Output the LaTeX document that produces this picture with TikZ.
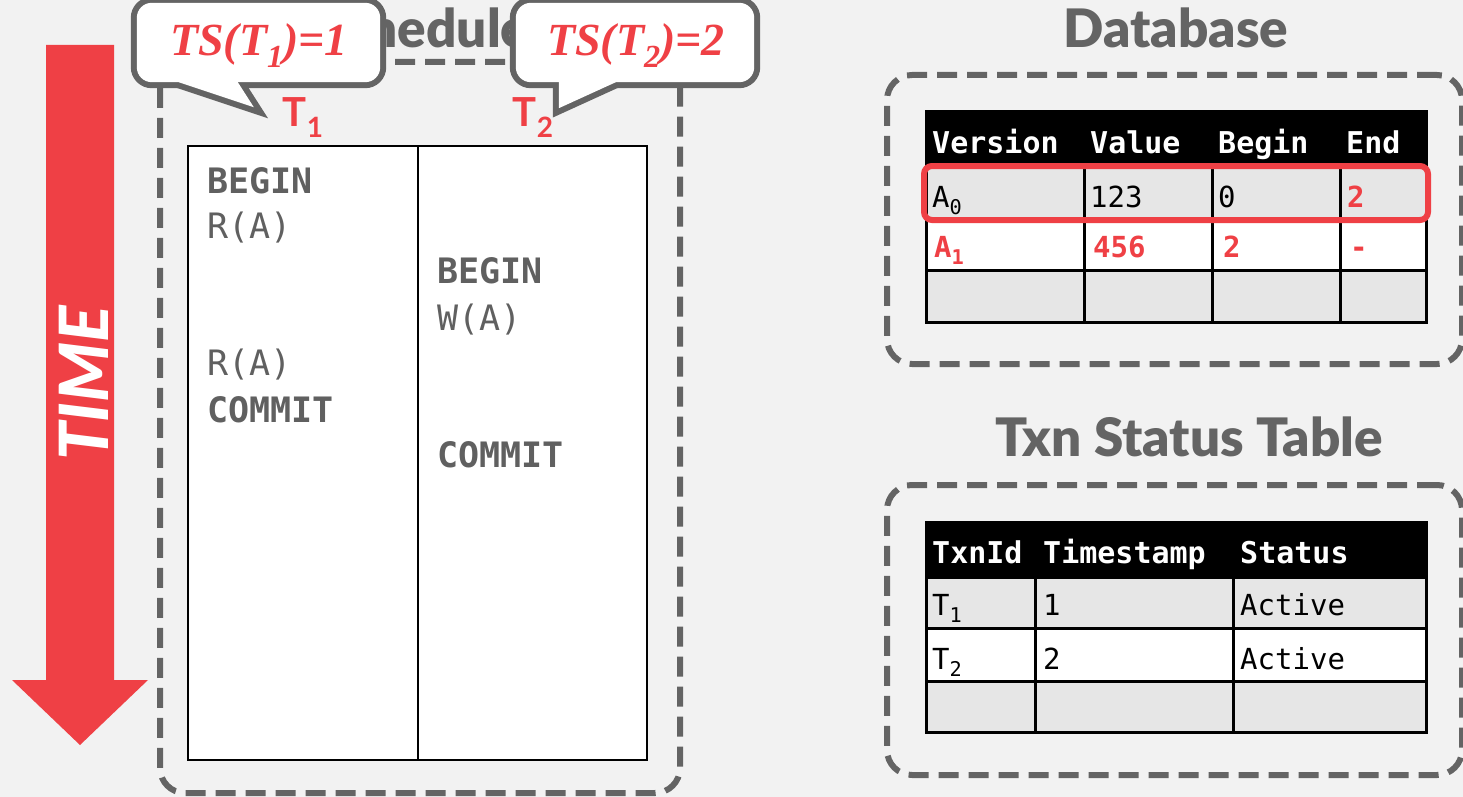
\documentclass[tikz,border=0pt]{standalone}
\usepackage{fontspec}
\setmainfont{Lato}
\setmonofont{DejaVu Sans Mono}
\newfontfamily\bubblefont{Liberation Serif}
\newfontfamily\heavyfont{Lato Black}
\usetikzlibrary{positioning, calc}

\definecolor{cmured}{RGB}{239,64,69}
\definecolor{dashgray}{RGB}{100,100,100}
\definecolor{textgray}{RGB}{96,96,96}
\definecolor{cellgray}{RGB}{230,230,230}
\definecolor{bggray}{RGB}{242,242,242}

\newcommand\lowidx[1]{\raisebox{-0.25em}{\scalebox{0.7}{#1}}}

\tikzset{
  dashbox/.style={draw=dashgray, line width=6pt, dash pattern=on 20pt off 10pt, rounded corners=25pt},
  paneltitle/.style={font=\heavyfont\fontsize{53}{53}\selectfont, text=dashgray, inner sep=0pt, anchor=base},
  optext/.style={font=\ttfamily\fontsize{35}{35}\selectfont, text=textgray, inner sep=0pt, anchor=base west},
  headtext/.style={font=\ttfamily\bfseries\fontsize{30}{30}\selectfont, text=white, inner sep=0pt, anchor=base west},
  celltext/.style={font=\ttfamily\fontsize{29}{29}\selectfont, inner sep=0pt, anchor=base west},
  redtext/.style={celltext, font=\ttfamily\bfseries\fontsize{29}{29}\selectfont, text=cmured},
  grid/.style={line width=3pt, black},
  bubbleline/.style={draw=dashgray, line width=12pt, line join=miter},
  bubblebox/.style={minimum width=243pt, minimum height=79pt, inner sep=0pt},
  bubbletext/.style={font=\bubblefont\bfseries\itshape\fontsize{46}{46}\selectfont, text=cmured, inner sep=0pt, anchor=base},
  txnlabel/.style={font=\fontsize{40}{40}\selectfont\bfseries, text=cmured, inner sep=0pt, anchor=base},
}

\begin{document}
\begin{tikzpicture}[x=1pt, y=-1pt]
\fill[bggray] (0,0) rectangle (1463,797);
\useasboundingbox (0,0) rectangle (1463,797);

% time arrow
\fill[cmured] (46,45) -- (114,45) -- (114,680) -- (148,680) -- (80,745) -- (12,680) -- (46,680) -- cycle;
\node[rotate=90, text=white, inner sep=0pt, font=\heavyfont\fontsize{68}{68}\selectfont\itshape] (timelabel) at (84,383) {TIME};

% schedule
\node[paneltitle] (schedtitle) at (421,48) {Schedule};
\node[dashbox, minimum width=520pt, minimum height=731pt] (schedbox) at (420,427.5) {};
\node[draw, fill=white, line width=2pt, minimum width=459pt, minimum height=614pt] (schedgrid) at (417.5,453) {};
\draw[line width=2pt] (schedgrid.north) -- (schedgrid.south);

\node[optext] (beginone) at (207,193) {\bfseries BEGIN};
\node[optext] (readone) at (207,238) {R(A)};
\node[optext] (readtwo) at (207,375) {R(A)};
\node[optext] (commitone) at (207,422) {\bfseries COMMIT};
\node[optext] (begintwo) at (437,283) {\bfseries BEGIN};
\node[optext] (writetwo) at (437,330) {W(A)};
\node[optext] (committwo) at (437,467) {\bfseries COMMIT};

\node[txnlabel] (tone) at (303,127) {T\lowidx{1}};
\node[txnlabel] (ttwo) at (533,127) {T\lowidx{2}};

% bubbles
\path node[bubblebox] (tsone) at (258.5,42.5) {};
\path node[bubblebox, minimum width=238pt] (tstwo) at (635,42.5) {};
\draw[bubbleline, rounded corners=15pt] (tsone.south west) rectangle (tsone.north east);
\draw[bubbleline] ($(tsone.south west)+(42,0)$) -- ($(tsone.south west)+(117,25)$) -- ($(tsone.south west)+(101,0)$);
\draw[bubbleline, rounded corners=15pt] (tstwo.south west) rectangle (tstwo.north east);
\draw[bubbleline] ($(tstwo.south west)+(43,0)$) -- ($(tstwo.south west)+(43,26)$) -- ($(tstwo.south west)+(100,0)$);
\fill[white, rounded corners=15pt] (tsone.south west) rectangle (tsone.north east);
\fill[white] ($(tsone.south west)+(42,0)$) -- ($(tsone.south west)+(117,25)$) -- ($(tsone.south west)+(101,0)$) -- cycle;
\fill[white, rounded corners=15pt] (tstwo.south west) rectangle (tstwo.north east);
\fill[white] ($(tstwo.south west)+(43,0)$) -- ($(tstwo.south west)+(43,26)$) -- ($(tstwo.south west)+(100,0)$) -- cycle;
\node[bubbletext] (tsonetext) at (259,56) {TS(T\lowidx{1})=1};
\node[bubbletext] (tstwotext) at (636,56) {TS(T\lowidx{2})=2};

% database
\node[paneltitle] (dbtitle) at (1176,48) {Database};
\node[dashbox, minimum width=575pt, minimum height=289pt] (dbbox) at (1174.5,219.5) {};
\fill[black] (926,112) rectangle (1426,166);
\fill[cellgray] (926,166) rectangle (1426,218);
\fill[white] (926,218) rectangle (1426,270);
\fill[cellgray] (926,270) rectangle (1426,322);
\draw[grid] (926,112) rectangle (1426,322);
\foreach \y in {166,218,270} \draw[grid] (926,\y) -- (1426,\y);
\foreach \x in {1084,1212,1340} \draw[grid] (\x,112) -- (\x,322);
\foreach \x/\txt/\nm in {932/Version/ver, 1090/Value/val, 1218/Begin/beg, 1346/End/end}
  \node[headtext] (db\nm) at (\x,153) {\txt};
\node[celltext] (azero) at (932,207) {A\lowidx{0}};
\node[celltext] (aval) at (1090,207) {123};
\node[celltext] (abeg) at (1218,207) {0};
\node[redtext] (aend) at (1347,207) {2};
\node[redtext] (aone) at (934,257) {A\lowidx{1}};
\node[redtext] (bval) at (1093,257) {456};
\node[redtext] (bbeg) at (1223,257) {2};
\node[redtext] (bend) at (1350,257) {-};
\draw[cmured, line width=6pt, rounded corners=8pt] (924,166) rectangle (1428,220);

% txn status table
\node[paneltitle] (txntitle) at (1189,456) {Txn Status Table};
\node[dashbox, minimum width=575pt, minimum height=290pt] (txnbox) at (1174.5,630) {};
\fill[black] (926,522) rectangle (1426,577);
\fill[cellgray] (926,577) rectangle (1426,628);
\fill[white] (926,628) rectangle (1426,681);
\fill[cellgray] (926,681) rectangle (1426,732);
\draw[grid] (926,522) rectangle (1426,732);
\foreach \y in {577,628,681} \draw[grid] (926,\y) -- (1426,\y);
\foreach \x in {1035,1233} \draw[grid] (\x,522) -- (\x,732);
\foreach \x/\txt/\nm in {932/TxnId/id, 1043/Timestamp/ts, 1240/Status/st}
  \node[headtext] (txn\nm) at (\x,563) {\txt};
\node[celltext] (tidone) at (932,615) {T\lowidx{1}};
\node[celltext] (tsvone) at (1043,615) {1};
\node[celltext] (stone) at (1240,615) {Active};
\node[celltext] (tidtwo) at (932,669) {T\lowidx{2}};
\node[celltext] (tsvtwo) at (1043,669) {2};
\node[celltext] (sttwo) at (1240,669) {Active};
\end{tikzpicture}
\end{document}
